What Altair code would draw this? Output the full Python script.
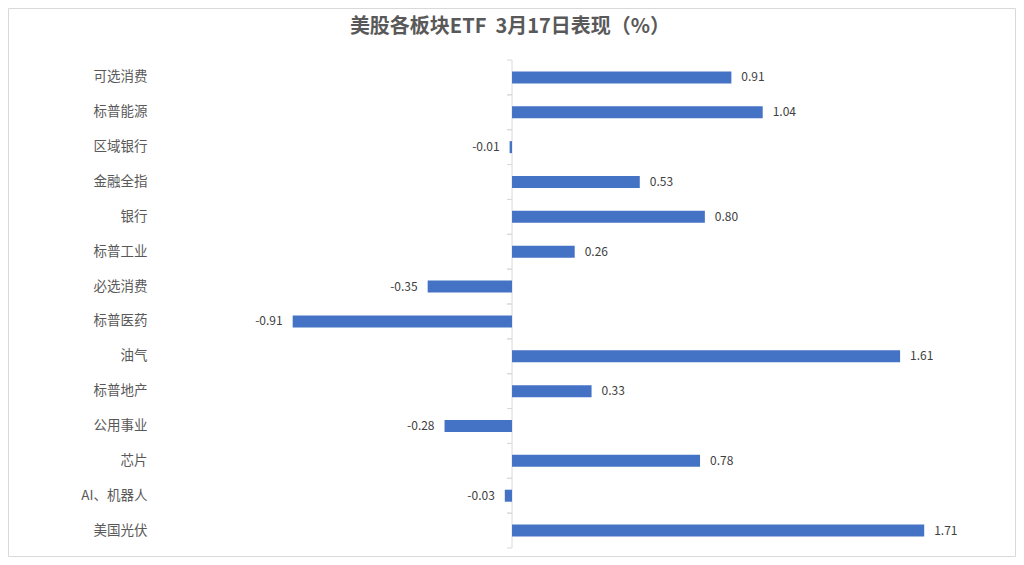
import altair as alt
import pandas as pd

title_text = "美股各板块ETF\u00a0\u00a03月17日表现（%）"
categories = ["可选消费", "标普能源", "区域银行", "金融全指", "银行", "标普工业", "必选消费",
              "标普医药", "油气", "标普地产", "公用事业", "芯片", "AI、机器人", "美国光伏"]
values = [0.91, 1.04, -0.01, 0.53, 0.80, 0.26, -0.35, -0.91, 1.61, 0.33, -0.28, 0.78, -0.03, 1.71]

df = pd.DataFrame({"cat": categories, "val": values})
df["label"] = [f"{v:.2f}" for v in values]
df["zero"] = 0.0

W, H = 820, 488
STEP = H / len(categories)
FONT = "Noto Sans CJK SC"

xs = alt.Scale(domain=[-1.419, 1.983], nice=False, zero=False)
ys = alt.Scale(paddingInner=0, paddingOuter=0)
Y = alt.Y("cat:N", sort=categories, scale=ys,
          axis=alt.Axis(title=None, domain=False, ticks=False, labelPadding=23,
                        labelFont=FONT, labelFontSize=13.5, labelColor="#595959", grid=False))
X = alt.X("val:Q", scale=xs, axis=None)
XZ = alt.X("zero:Q", scale=xs, axis=None)

base = alt.Chart(df)
first = alt.datum.cat == categories[0]

border = base.mark_rect(fill=None, stroke="#d9d9d9", strokeWidth=1).encode(
    x=alt.value(-161.5), x2=alt.value(845.5), y=alt.value(-51.5), y2=alt.value(496.5)
).transform_filter(first)

title = base.mark_text(font=FONT, fontSize=20, fontWeight="bold", color="#595959",
                       align="center", baseline="middle").encode(
    x=alt.value(340), y=alt.value(-33), text=alt.value(title_text)
).transform_filter(first)

zero_line = base.mark_rule(color="#d9d9d9", strokeWidth=1).encode(
    x=XZ, y=alt.value(0), y2=alt.value(H)
).transform_filter(first)

ticks_a = base.mark_rule(color="#d9d9d9", strokeWidth=1, xOffset=-5, x2Offset=0, yOffset=STEP / 2).encode(
    x=XZ, x2="zero:Q", y=Y)
ticks_b = base.mark_rule(color="#d9d9d9", strokeWidth=1, xOffset=-5, x2Offset=0, yOffset=-STEP / 2).encode(
    x=XZ, x2="zero:Q", y=Y)

bars = base.mark_bar(color="#4472C4", size=12).encode(
    x=X, x2="zero:Q", y=Y)

pos_text = base.mark_text(align="left", dx=10, font=FONT, fontSize=12, color="#404040").encode(
    x=X, y=Y, text="label:N").transform_filter(alt.datum.val >= 0)
neg_text = base.mark_text(align="right", dx=-10, font=FONT, fontSize=12, color="#404040").encode(
    x=X, y=Y, text="label:N").transform_filter(alt.datum.val < 0)

chart = alt.layer(border, title, zero_line, ticks_a, ticks_b, bars, pos_text, neg_text).properties(
    width=W, height=H,
    background="white",
    autosize=alt.AutoSizeParams(type="none"),
    padding={"left": 162, "top": 52, "right": 26, "bottom": 9},
).configure_view(stroke=None)

chart.save("out.html", embed_options={"renderer": "svg", "actions": False})
